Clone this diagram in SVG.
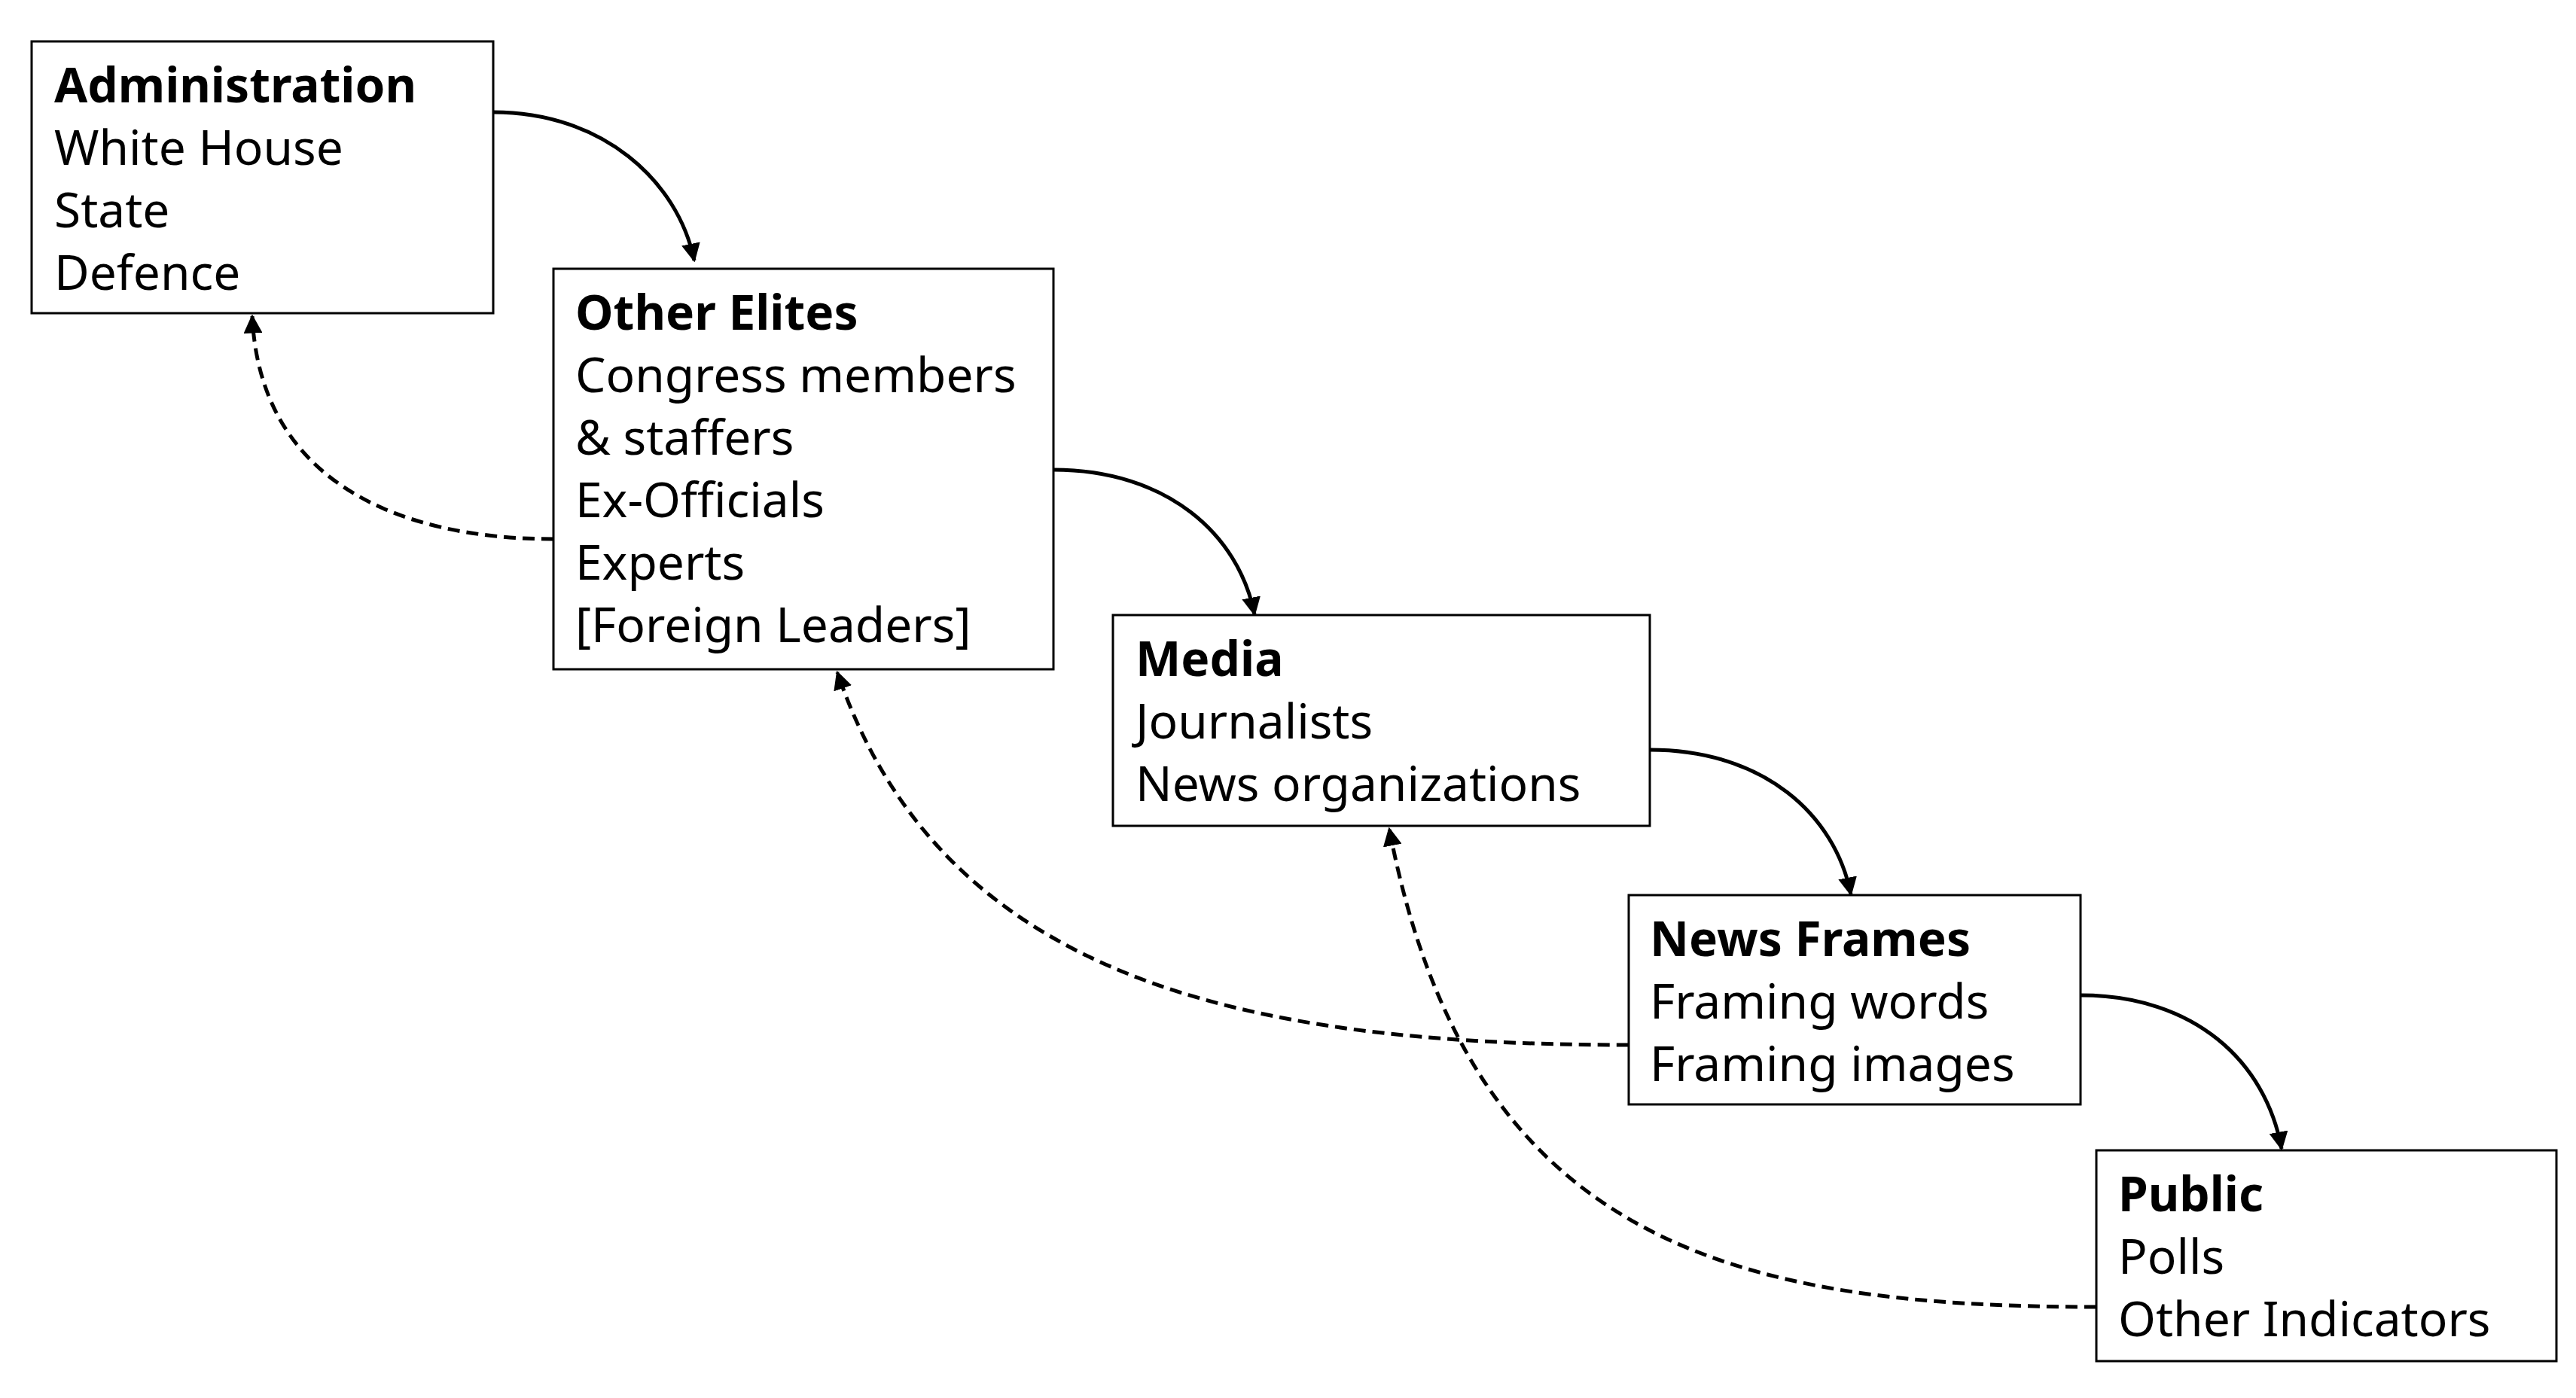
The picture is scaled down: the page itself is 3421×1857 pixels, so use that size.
<svg xmlns="http://www.w3.org/2000/svg" width="3421" height="1857" viewBox="0 0 3421 1857">
<style>
.box{fill:#fff;stroke:#000;stroke-width:3}
text{font-family:"Noto Sans","Open Sans",sans-serif;font-size:64px;fill:#000}
.t{font-weight:bold}
.c{fill:none;stroke:#000;stroke-width:5}
.d{stroke-dasharray:16 9}
</style>
<defs>
<marker id="a" viewBox="0 0 10 10" refX="9" refY="5" markerWidth="5" markerHeight="5" orient="auto" markerUnits="strokeWidth">
<path d="M0,0 L10,5 L0,10 Z" fill="#000"/>
</marker>
</defs>
<rect width="3421" height="1857" fill="#fff"/>
<g id="connectors">
<path class="c" marker-end="url(#a)" d="M655,149 C800,149 900,240 922,346"/>
<path class="c" marker-end="url(#a)" d="M1399,624 C1550,624 1645,710 1666,816"/>
<path class="c" marker-end="url(#a)" d="M2191,996 C2342,996 2437,1082 2458,1188"/>
<path class="c" marker-end="url(#a)" d="M2763,1322 C2914,1322 3009,1410 3030,1526"/>
<path class="c d" marker-end="url(#a)" d="M735,716 C530,716 345,640 335,420"/>
<path class="c d" marker-end="url(#a)" d="M2163,1388 C1650,1388 1250,1300 1112,893"/>
<path class="c d" marker-end="url(#a)" d="M2784,1736 C2300,1736 1950,1650 1845,1101"/>
</g>
<g id="admin">
<rect class="box" x="42" y="55" width="613" height="361"/>
<text x="72" y="136"><tspan class="t">Administration</tspan><tspan x="72" dy="83">White House</tspan><tspan x="72" dy="83">State</tspan><tspan x="72" dy="83">Defence</tspan></text>
</g>
<g id="elites">
<rect class="box" x="735" y="357" width="664" height="532"/>
<text x="764" y="438"><tspan class="t">Other Elites</tspan><tspan x="764" dy="83">Congress members</tspan><tspan x="764" dy="83">&amp; staffers</tspan><tspan x="764" dy="83">Ex-Officials</tspan><tspan x="764" dy="83">Experts</tspan><tspan x="764" dy="83">[Foreign Leaders]</tspan></text>
</g>
<g id="media">
<rect class="box" x="1478" y="817" width="713" height="280"/>
<text x="1508" y="898"><tspan class="t">Media</tspan><tspan x="1508" dy="83">Journalists</tspan><tspan x="1508" dy="83">News organizations</tspan></text>
</g>
<g id="frames">
<rect class="box" x="2163" y="1189" width="600" height="278"/>
<text x="2191" y="1270"><tspan class="t">News Frames</tspan><tspan x="2191" dy="83">Framing words</tspan><tspan x="2191" dy="83">Framing images</tspan></text>
</g>
<g id="public">
<rect class="box" x="2784" y="1528" width="611" height="280"/>
<text x="2813" y="1609"><tspan class="t">Public</tspan><tspan x="2813" dy="83">Polls</tspan><tspan x="2813" dy="83">Other Indicators</tspan></text>
</g>
</svg>
